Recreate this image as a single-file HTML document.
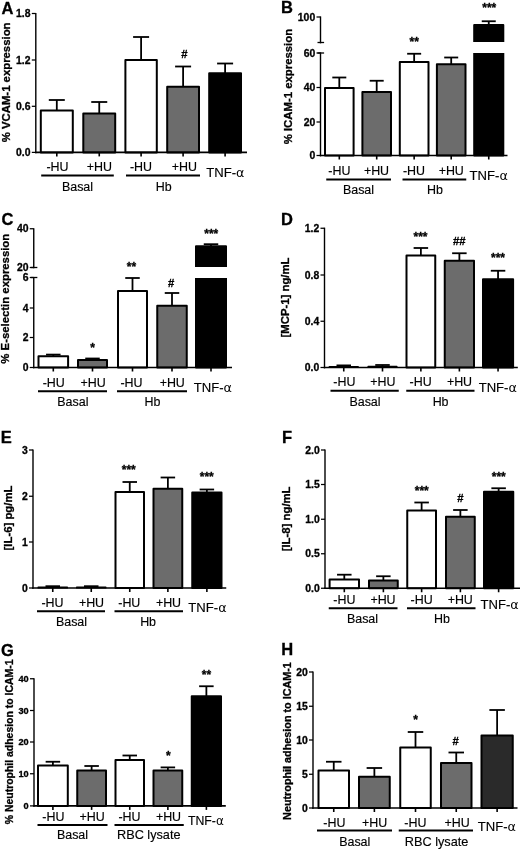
<!DOCTYPE html>
<html><head><meta charset="utf-8"><title>Figure</title>
<style>
html,body{margin:0;padding:0;background:#fff;}
svg{display:block;font-family:"Liberation Sans", sans-serif;fill:#000;}
</style></head><body>
<svg width="520" height="850" viewBox="0 0 520 850">
<rect x="0" y="0" width="520" height="850" fill="#fff"/>
<line x1="56.8" y1="100" x2="56.8" y2="110.5" stroke="#000" stroke-width="1.8"/>
<line x1="48.8" y1="100" x2="64.8" y2="100" stroke="#000" stroke-width="1.8"/>
<rect x="40.8" y="110.5" width="32.0" height="41.900000000000006" fill="#fff" stroke="#000" stroke-width="2.0" stroke-linejoin="round"/>
<line x1="56.8" y1="152.4" x2="56.8" y2="156.4" stroke="#000" stroke-width="1.6"/>
<line x1="99.25" y1="102" x2="99.25" y2="113.4" stroke="#000" stroke-width="1.8"/>
<line x1="91.25" y1="102" x2="107.25" y2="102" stroke="#000" stroke-width="1.8"/>
<rect x="83.3" y="113.4" width="31.900000000000006" height="39.0" fill="#6c6c6c" stroke="#000" stroke-width="2.0" stroke-linejoin="round"/>
<line x1="99.25" y1="152.4" x2="99.25" y2="156.4" stroke="#000" stroke-width="1.6"/>
<line x1="141.10000000000002" y1="37" x2="141.10000000000002" y2="60" stroke="#000" stroke-width="1.8"/>
<line x1="133.10000000000002" y1="37" x2="149.10000000000002" y2="37" stroke="#000" stroke-width="1.8"/>
<rect x="125.4" y="60" width="31.400000000000006" height="92.4" fill="#fff" stroke="#000" stroke-width="2.0" stroke-linejoin="round"/>
<line x1="141.10000000000002" y1="152.4" x2="141.10000000000002" y2="156.4" stroke="#000" stroke-width="1.6"/>
<line x1="183.1" y1="66.5" x2="183.1" y2="86.7" stroke="#000" stroke-width="1.8"/>
<line x1="175.1" y1="66.5" x2="191.1" y2="66.5" stroke="#000" stroke-width="1.8"/>
<rect x="167.2" y="86.7" width="31.80000000000001" height="65.7" fill="#6c6c6c" stroke="#000" stroke-width="2.0" stroke-linejoin="round"/>
<line x1="183.1" y1="152.4" x2="183.1" y2="156.4" stroke="#000" stroke-width="1.6"/>
<line x1="225.1" y1="63.5" x2="225.1" y2="73.3" stroke="#000" stroke-width="1.8"/>
<line x1="217.1" y1="63.5" x2="233.1" y2="63.5" stroke="#000" stroke-width="1.8"/>
<rect x="209.2" y="73.3" width="31.80000000000001" height="79.10000000000001" fill="#000" stroke="#000" stroke-width="2.0" stroke-linejoin="round"/>
<line x1="225.1" y1="152.4" x2="225.1" y2="156.4" stroke="#000" stroke-width="1.6"/>
<line x1="35.8" y1="12.9" x2="35.8" y2="153.25" stroke="#000" stroke-width="1.4"/>
<line x1="35.099999999999994" y1="152.4" x2="247" y2="152.4" stroke="#000" stroke-width="1.7"/>
<line x1="31.799999999999997" y1="13.5" x2="35.8" y2="13.5" stroke="#000" stroke-width="1.25"/>
<text x="30.499999999999996" y="17.22" font-size="10.4" text-anchor="end" font-weight="bold" stroke="#000" stroke-width="0.3">1.8</text>
<line x1="31.799999999999997" y1="60" x2="35.8" y2="60" stroke="#000" stroke-width="1.25"/>
<text x="30.499999999999996" y="63.72" font-size="10.4" text-anchor="end" font-weight="bold" stroke="#000" stroke-width="0.3">1.2</text>
<line x1="31.799999999999997" y1="106.3" x2="35.8" y2="106.3" stroke="#000" stroke-width="1.25"/>
<text x="30.499999999999996" y="110.02" font-size="10.4" text-anchor="end" font-weight="bold" stroke="#000" stroke-width="0.3">0.6</text>
<line x1="31.799999999999997" y1="152.4" x2="35.8" y2="152.4" stroke="#000" stroke-width="1.25"/>
<text x="30.499999999999996" y="156.12" font-size="10.4" text-anchor="end" font-weight="bold" stroke="#000" stroke-width="0.3">0.0</text>
<text x="184.3" y="58.0" font-size="11.3" text-anchor="middle" font-weight="bold" stroke="#000" stroke-width="0.3">#</text>
<text x="57.5" y="171.46" font-size="12.45" text-anchor="middle" stroke="#000" stroke-width="0.15">-HU</text>
<text x="99.4" y="171.46" font-size="12.45" text-anchor="middle" stroke="#000" stroke-width="0.15">+HU</text>
<text x="141" y="171.46" font-size="12.45" text-anchor="middle" stroke="#000" stroke-width="0.15">-HU</text>
<text x="184.4" y="171.46" font-size="12.45" text-anchor="middle" stroke="#000" stroke-width="0.15">+HU</text>
<text x="77.5" y="190.76" font-size="12.45" text-anchor="middle" stroke="#000" stroke-width="0.15">Basal</text>
<text x="163.7" y="191.26" font-size="12.45" text-anchor="middle" stroke="#000" stroke-width="0.15">Hb</text>
<text x="225.4" y="176.89" font-size="13.1" text-anchor="middle" stroke="#000" stroke-width="0.15">TNF-<tspan font-family="DejaVu Sans, sans-serif" font-size="12.8" stroke="none">α</tspan></text>
<line x1="41.2" y1="175.5" x2="113.8" y2="175.5" stroke="#000" stroke-width="1.8"/>
<line x1="126" y1="175.5" x2="200" y2="175.5" stroke="#000" stroke-width="1.8"/>
<text x="9.86" y="82.4" font-size="11.35" text-anchor="middle" font-weight="bold" stroke="#000" stroke-width="0.3" transform="rotate(-90 9.86 82.4)">% VCAM-1 expression</text>
<text x="1.6" y="13.7" font-size="16.5" text-anchor="start" font-weight="bold" stroke="#000" stroke-width="0.3">A</text>
<line x1="339.3" y1="77.5" x2="339.3" y2="88" stroke="#000" stroke-width="1.8"/>
<line x1="332.3" y1="77.5" x2="346.3" y2="77.5" stroke="#000" stroke-width="1.8"/>
<rect x="325.0" y="88" width="28.600000000000023" height="67.5" fill="#fff" stroke="#000" stroke-width="2.0" stroke-linejoin="round"/>
<line x1="339.3" y1="155.5" x2="339.3" y2="159.5" stroke="#000" stroke-width="1.6"/>
<line x1="376.7" y1="80.75" x2="376.7" y2="92" stroke="#000" stroke-width="1.8"/>
<line x1="369.7" y1="80.75" x2="383.7" y2="80.75" stroke="#000" stroke-width="1.8"/>
<rect x="362.4" y="92" width="28.600000000000023" height="63.5" fill="#6c6c6c" stroke="#000" stroke-width="2.0" stroke-linejoin="round"/>
<line x1="376.7" y1="155.5" x2="376.7" y2="159.5" stroke="#000" stroke-width="1.6"/>
<line x1="414.15" y1="53.75" x2="414.15" y2="62" stroke="#000" stroke-width="1.8"/>
<line x1="407.15" y1="53.75" x2="421.15" y2="53.75" stroke="#000" stroke-width="1.8"/>
<rect x="399.8" y="62" width="28.69999999999999" height="93.5" fill="#fff" stroke="#000" stroke-width="2.0" stroke-linejoin="round"/>
<line x1="414.15" y1="155.5" x2="414.15" y2="159.5" stroke="#000" stroke-width="1.6"/>
<line x1="451.2" y1="57.5" x2="451.2" y2="64.25" stroke="#000" stroke-width="1.8"/>
<line x1="444.2" y1="57.5" x2="458.2" y2="57.5" stroke="#000" stroke-width="1.8"/>
<rect x="436.9" y="64.25" width="28.600000000000023" height="91.25" fill="#6c6c6c" stroke="#000" stroke-width="2.0" stroke-linejoin="round"/>
<line x1="451.2" y1="155.5" x2="451.2" y2="159.5" stroke="#000" stroke-width="1.6"/>
<line x1="488.75" y1="21.25" x2="488.75" y2="25" stroke="#000" stroke-width="1.8"/>
<line x1="481.75" y1="21.25" x2="495.75" y2="21.25" stroke="#000" stroke-width="1.8"/>
<rect x="474.2" y="25" width="29.100000000000023" height="130.5" fill="#000" stroke="#000" stroke-width="2.0" stroke-linejoin="round"/>
<line x1="488.75" y1="155.5" x2="488.75" y2="159.5" stroke="#000" stroke-width="1.6"/>
<rect x="471" y="42" width="36" height="11" fill="#fff"/>
<line x1="320.5" y1="16.4" x2="320.5" y2="43.35" stroke="#000" stroke-width="1.4"/>
<line x1="320.5" y1="52.4" x2="320.5" y2="156.35" stroke="#000" stroke-width="1.4"/>
<line x1="319.8" y1="155.5" x2="507.5" y2="155.5" stroke="#000" stroke-width="1.7"/>
<line x1="317.5" y1="42.5" x2="324.1" y2="42.5" stroke="#000" stroke-width="1.3"/>
<line x1="317.5" y1="53" x2="324.1" y2="53" stroke="#000" stroke-width="1.3"/>
<line x1="316.5" y1="17" x2="320.5" y2="17" stroke="#000" stroke-width="1.25"/>
<text x="315.2" y="20.72" font-size="10.4" text-anchor="end" font-weight="bold" stroke="#000" stroke-width="0.3">100</text>
<line x1="316.5" y1="53" x2="320.5" y2="53" stroke="#000" stroke-width="1.25"/>
<text x="315.2" y="56.72" font-size="10.4" text-anchor="end" font-weight="bold" stroke="#000" stroke-width="0.3">60</text>
<line x1="316.5" y1="87.5" x2="320.5" y2="87.5" stroke="#000" stroke-width="1.25"/>
<text x="315.2" y="91.22" font-size="10.4" text-anchor="end" font-weight="bold" stroke="#000" stroke-width="0.3">40</text>
<line x1="316.5" y1="122" x2="320.5" y2="122" stroke="#000" stroke-width="1.25"/>
<text x="315.2" y="125.72" font-size="10.4" text-anchor="end" font-weight="bold" stroke="#000" stroke-width="0.3">20</text>
<line x1="316.5" y1="155.5" x2="320.5" y2="155.5" stroke="#000" stroke-width="1.25"/>
<text x="315.2" y="159.22" font-size="10.4" text-anchor="end" font-weight="bold" stroke="#000" stroke-width="0.3">0</text>
<text x="414.25" y="46.2" font-size="12" text-anchor="middle" font-weight="bold" stroke="#000" stroke-width="0.3">**</text>
<text x="489.25" y="12.45" font-size="12" text-anchor="middle" font-weight="bold" stroke="#000" stroke-width="0.3">***</text>
<text x="339.4" y="174.76" font-size="12.45" text-anchor="middle" stroke="#000" stroke-width="0.15">-HU</text>
<text x="376.5" y="174.76" font-size="12.45" text-anchor="middle" stroke="#000" stroke-width="0.15">+HU</text>
<text x="414" y="174.96" font-size="12.45" text-anchor="middle" stroke="#000" stroke-width="0.15">-HU</text>
<text x="451.25" y="174.96" font-size="12.45" text-anchor="middle" stroke="#000" stroke-width="0.15">+HU</text>
<text x="358.5" y="194.36" font-size="12.45" text-anchor="middle" stroke="#000" stroke-width="0.15">Basal</text>
<text x="435" y="194.36" font-size="12.45" text-anchor="middle" stroke="#000" stroke-width="0.15">Hb</text>
<text x="488.75" y="180.09" font-size="13.1" text-anchor="middle" stroke="#000" stroke-width="0.15">TNF-<tspan font-family="DejaVu Sans, sans-serif" font-size="12.8" stroke="none">α</tspan></text>
<line x1="326.25" y1="179.5" x2="391" y2="179.5" stroke="#000" stroke-width="1.8"/>
<line x1="402.5" y1="179.5" x2="466.25" y2="179.5" stroke="#000" stroke-width="1.8"/>
<text x="291.66" y="86.6" font-size="11.35" text-anchor="middle" font-weight="bold" stroke="#000" stroke-width="0.3" transform="rotate(-90 291.66 86.6)">% ICAM-1 expression</text>
<text x="281" y="13.2" font-size="16.5" text-anchor="start" font-weight="bold" stroke="#000" stroke-width="0.3">B</text>
<line x1="53.3" y1="354.6" x2="53.3" y2="356.2" stroke="#000" stroke-width="1.8"/>
<line x1="46.05" y1="354.6" x2="60.55" y2="354.6" stroke="#000" stroke-width="1.8"/>
<rect x="38.5" y="356.2" width="29.599999999999994" height="11.300000000000011" fill="#fff" stroke="#000" stroke-width="2.0" stroke-linejoin="round"/>
<line x1="53.3" y1="367.5" x2="53.3" y2="371.5" stroke="#000" stroke-width="1.6"/>
<line x1="92.5" y1="358.5" x2="92.5" y2="360" stroke="#000" stroke-width="1.8"/>
<line x1="85.25" y1="358.5" x2="99.75" y2="358.5" stroke="#000" stroke-width="1.8"/>
<rect x="78.0" y="360" width="29.0" height="7.5" fill="#6c6c6c" stroke="#000" stroke-width="2.0" stroke-linejoin="round"/>
<line x1="92.5" y1="367.5" x2="92.5" y2="371.5" stroke="#000" stroke-width="1.6"/>
<line x1="132.5" y1="278" x2="132.5" y2="291" stroke="#000" stroke-width="1.8"/>
<line x1="125.25" y1="278" x2="139.75" y2="278" stroke="#000" stroke-width="1.8"/>
<rect x="118.0" y="291" width="29.0" height="76.5" fill="#fff" stroke="#000" stroke-width="2.0" stroke-linejoin="round"/>
<line x1="132.5" y1="367.5" x2="132.5" y2="371.5" stroke="#000" stroke-width="1.6"/>
<line x1="172.0" y1="293" x2="172.0" y2="305.75" stroke="#000" stroke-width="1.8"/>
<line x1="164.75" y1="293" x2="179.25" y2="293" stroke="#000" stroke-width="1.8"/>
<rect x="157.25" y="305.75" width="29.5" height="61.75" fill="#6c6c6c" stroke="#000" stroke-width="2.0" stroke-linejoin="round"/>
<line x1="172.0" y1="367.5" x2="172.0" y2="371.5" stroke="#000" stroke-width="1.6"/>
<line x1="211.0" y1="244.2" x2="211.0" y2="246.2" stroke="#000" stroke-width="1.8"/>
<line x1="203.75" y1="244.2" x2="218.25" y2="244.2" stroke="#000" stroke-width="1.8"/>
<rect x="196.0" y="246.2" width="30.0" height="121.30000000000001" fill="#000" stroke="#000" stroke-width="2.0" stroke-linejoin="round"/>
<line x1="211.0" y1="367.5" x2="211.0" y2="371.5" stroke="#000" stroke-width="1.6"/>
<rect x="193" y="267" width="36" height="11" fill="#fff"/>
<line x1="33.75" y1="228.15" x2="33.75" y2="268.35" stroke="#000" stroke-width="1.4"/>
<line x1="33.75" y1="276.9" x2="33.75" y2="368.35" stroke="#000" stroke-width="1.4"/>
<line x1="33.05" y1="367.5" x2="232" y2="367.5" stroke="#000" stroke-width="1.7"/>
<line x1="30.75" y1="267.5" x2="37.35" y2="267.5" stroke="#000" stroke-width="1.3"/>
<line x1="30.75" y1="277.5" x2="37.35" y2="277.5" stroke="#000" stroke-width="1.3"/>
<line x1="29.75" y1="228.75" x2="33.75" y2="228.75" stroke="#000" stroke-width="1.25"/>
<text x="28.45" y="232.47" font-size="10.4" text-anchor="end" font-weight="bold" stroke="#000" stroke-width="0.3">40</text>
<line x1="29.75" y1="267.5" x2="33.75" y2="267.5" stroke="#000" stroke-width="1.25"/>
<text x="28.45" y="271.22" font-size="10.4" text-anchor="end" font-weight="bold" stroke="#000" stroke-width="0.3">20</text>
<line x1="29.75" y1="277.5" x2="33.75" y2="277.5" stroke="#000" stroke-width="1.25"/>
<text x="28.45" y="281.22" font-size="10.4" text-anchor="end" font-weight="bold" stroke="#000" stroke-width="0.3">6</text>
<line x1="29.75" y1="308" x2="33.75" y2="308" stroke="#000" stroke-width="1.25"/>
<text x="28.45" y="311.72" font-size="10.4" text-anchor="end" font-weight="bold" stroke="#000" stroke-width="0.3">4</text>
<line x1="29.75" y1="337.5" x2="33.75" y2="337.5" stroke="#000" stroke-width="1.25"/>
<text x="28.45" y="341.22" font-size="10.4" text-anchor="end" font-weight="bold" stroke="#000" stroke-width="0.3">2</text>
<line x1="29.75" y1="367.5" x2="33.75" y2="367.5" stroke="#000" stroke-width="1.25"/>
<text x="28.45" y="371.22" font-size="10.4" text-anchor="end" font-weight="bold" stroke="#000" stroke-width="0.3">0</text>
<text x="92.5" y="351.95" font-size="12" text-anchor="middle" font-weight="bold" stroke="#000" stroke-width="0.3">*</text>
<text x="131.5" y="271.2" font-size="12" text-anchor="middle" font-weight="bold" stroke="#000" stroke-width="0.3">**</text>
<text x="171.25" y="286.5" font-size="11.3" text-anchor="middle" font-weight="bold" stroke="#000" stroke-width="0.3">#</text>
<text x="211.25" y="238.2" font-size="12" text-anchor="middle" font-weight="bold" stroke="#000" stroke-width="0.3">***</text>
<text x="53.75" y="386.96" font-size="12.45" text-anchor="middle" stroke="#000" stroke-width="0.15">-HU</text>
<text x="93.1" y="386.96" font-size="12.45" text-anchor="middle" stroke="#000" stroke-width="0.15">+HU</text>
<text x="131.5" y="386.96" font-size="12.45" text-anchor="middle" stroke="#000" stroke-width="0.15">-HU</text>
<text x="172.25" y="386.96" font-size="12.45" text-anchor="middle" stroke="#000" stroke-width="0.15">+HU</text>
<text x="72.9" y="406.06" font-size="12.45" text-anchor="middle" stroke="#000" stroke-width="0.15">Basal</text>
<text x="152.5" y="406.06" font-size="12.45" text-anchor="middle" stroke="#000" stroke-width="0.15">Hb</text>
<text x="212.9" y="391.94" font-size="13.1" text-anchor="middle" stroke="#000" stroke-width="0.15">TNF-<tspan font-family="DejaVu Sans, sans-serif" font-size="12.8" stroke="none">α</tspan></text>
<line x1="38" y1="391.25" x2="107" y2="391.25" stroke="#000" stroke-width="1.8"/>
<line x1="117" y1="391.25" x2="187" y2="391.25" stroke="#000" stroke-width="1.8"/>
<text x="9.46" y="298.7" font-size="11.35" text-anchor="middle" font-weight="bold" stroke="#000" stroke-width="0.3" transform="rotate(-90 9.46 298.7)">% E-selectin expression</text>
<text x="1.5" y="225" font-size="16.5" text-anchor="start" font-weight="bold" stroke="#000" stroke-width="0.3">C</text>
<line x1="343.75" y1="365.4" x2="343.75" y2="366.6" stroke="#000" stroke-width="1.8"/>
<line x1="336.5" y1="365.4" x2="351.0" y2="365.4" stroke="#000" stroke-width="1.8"/>
<rect x="329.35" y="366.6" width="28.799999999999955" height="0.8999999999999773" fill="#000" stroke="#000" stroke-width="1.2" stroke-linejoin="round"/>
<line x1="343.75" y1="367.5" x2="343.75" y2="371.5" stroke="#000" stroke-width="1.6"/>
<line x1="382.5" y1="365" x2="382.5" y2="366.4" stroke="#000" stroke-width="1.8"/>
<line x1="375.25" y1="365" x2="389.75" y2="365" stroke="#000" stroke-width="1.8"/>
<rect x="368.1" y="366.4" width="28.799999999999955" height="1.1000000000000227" fill="#000" stroke="#000" stroke-width="1.2" stroke-linejoin="round"/>
<line x1="382.5" y1="367.5" x2="382.5" y2="371.5" stroke="#000" stroke-width="1.6"/>
<line x1="420.875" y1="248" x2="420.875" y2="255.5" stroke="#000" stroke-width="1.8"/>
<line x1="413.625" y1="248" x2="428.125" y2="248" stroke="#000" stroke-width="1.8"/>
<rect x="406.5" y="255.5" width="28.75" height="112.0" fill="#fff" stroke="#000" stroke-width="2.0" stroke-linejoin="round"/>
<line x1="420.875" y1="367.5" x2="420.875" y2="371.5" stroke="#000" stroke-width="1.6"/>
<line x1="459.375" y1="253.25" x2="459.375" y2="260.75" stroke="#000" stroke-width="1.8"/>
<line x1="452.125" y1="253.25" x2="466.625" y2="253.25" stroke="#000" stroke-width="1.8"/>
<rect x="444.75" y="260.75" width="29.25" height="106.75" fill="#6c6c6c" stroke="#000" stroke-width="2.0" stroke-linejoin="round"/>
<line x1="459.375" y1="367.5" x2="459.375" y2="371.5" stroke="#000" stroke-width="1.6"/>
<line x1="498.05" y1="270.75" x2="498.05" y2="279.25" stroke="#000" stroke-width="1.8"/>
<line x1="490.8" y1="270.75" x2="505.3" y2="270.75" stroke="#000" stroke-width="1.8"/>
<rect x="483.0" y="279.25" width="30.100000000000023" height="88.25" fill="#000" stroke="#000" stroke-width="2.0" stroke-linejoin="round"/>
<line x1="498.05" y1="367.5" x2="498.05" y2="371.5" stroke="#000" stroke-width="1.6"/>
<line x1="324.5" y1="227.65" x2="324.5" y2="368.35" stroke="#000" stroke-width="1.4"/>
<line x1="323.8" y1="367.5" x2="517.8" y2="367.5" stroke="#000" stroke-width="1.7"/>
<line x1="320.5" y1="228.25" x2="324.5" y2="228.25" stroke="#000" stroke-width="1.25"/>
<text x="319.2" y="231.97" font-size="10.4" text-anchor="end" font-weight="bold" stroke="#000" stroke-width="0.3">1.2</text>
<line x1="320.5" y1="275" x2="324.5" y2="275" stroke="#000" stroke-width="1.25"/>
<text x="319.2" y="278.72" font-size="10.4" text-anchor="end" font-weight="bold" stroke="#000" stroke-width="0.3">0.8</text>
<line x1="320.5" y1="321.25" x2="324.5" y2="321.25" stroke="#000" stroke-width="1.25"/>
<text x="319.2" y="324.97" font-size="10.4" text-anchor="end" font-weight="bold" stroke="#000" stroke-width="0.3">0.4</text>
<line x1="320.5" y1="367.5" x2="324.5" y2="367.5" stroke="#000" stroke-width="1.25"/>
<text x="319.2" y="371.22" font-size="10.4" text-anchor="end" font-weight="bold" stroke="#000" stroke-width="0.3">0.0</text>
<text x="420.5" y="240.7" font-size="12" text-anchor="middle" font-weight="bold" stroke="#000" stroke-width="0.3">***</text>
<text x="459.25" y="245.25" font-size="11.3" text-anchor="middle" font-weight="bold" stroke="#000" stroke-width="0.3">##</text>
<text x="498" y="262.45" font-size="12" text-anchor="middle" font-weight="bold" stroke="#000" stroke-width="0.3">***</text>
<text x="344.4" y="386.36" font-size="12.45" text-anchor="middle" stroke="#000" stroke-width="0.15">-HU</text>
<text x="382.8" y="386.36" font-size="12.45" text-anchor="middle" stroke="#000" stroke-width="0.15">+HU</text>
<text x="420.6" y="386.36" font-size="12.45" text-anchor="middle" stroke="#000" stroke-width="0.15">-HU</text>
<text x="459.5" y="386.36" font-size="12.45" text-anchor="middle" stroke="#000" stroke-width="0.15">+HU</text>
<text x="365" y="405.56" font-size="12.45" text-anchor="middle" stroke="#000" stroke-width="0.15">Basal</text>
<text x="440.6" y="405.56" font-size="12.45" text-anchor="middle" stroke="#000" stroke-width="0.15">Hb</text>
<text x="497.8" y="391.79" font-size="13.1" text-anchor="middle" stroke="#000" stroke-width="0.15">TNF-<tspan font-family="DejaVu Sans, sans-serif" font-size="12.8" stroke="none">α</tspan></text>
<line x1="330.5" y1="390.75" x2="398.75" y2="390.75" stroke="#000" stroke-width="1.8"/>
<line x1="406.25" y1="390.75" x2="474.5" y2="390.75" stroke="#000" stroke-width="1.8"/>
<text x="289.06" y="297.5" font-size="11.35" text-anchor="middle" font-weight="bold" stroke="#000" stroke-width="0.3" transform="rotate(-90 289.06 297.5)">[MCP-1] ng/mL</text>
<text x="281" y="225" font-size="16.5" text-anchor="start" font-weight="bold" stroke="#000" stroke-width="0.3">D</text>
<line x1="52.75" y1="586.2" x2="52.75" y2="587.2" stroke="#000" stroke-width="1.8"/>
<line x1="45.5" y1="586.2" x2="60.0" y2="586.2" stroke="#000" stroke-width="1.8"/>
<rect x="38.1" y="587.2" width="29.300000000000004" height="0.7999999999999545" fill="#000" stroke="#000" stroke-width="1.2" stroke-linejoin="round"/>
<line x1="52.75" y1="588" x2="52.75" y2="592" stroke="#000" stroke-width="1.6"/>
<line x1="91.25" y1="586.2" x2="91.25" y2="587.2" stroke="#000" stroke-width="1.8"/>
<line x1="84.0" y1="586.2" x2="98.5" y2="586.2" stroke="#000" stroke-width="1.8"/>
<rect x="76.6" y="587.2" width="29.30000000000001" height="0.7999999999999545" fill="#000" stroke="#000" stroke-width="1.2" stroke-linejoin="round"/>
<line x1="91.25" y1="588" x2="91.25" y2="592" stroke="#000" stroke-width="1.6"/>
<line x1="129.75" y1="482" x2="129.75" y2="492" stroke="#000" stroke-width="1.8"/>
<line x1="122.5" y1="482" x2="137.0" y2="482" stroke="#000" stroke-width="1.8"/>
<rect x="115.5" y="492" width="28.5" height="96" fill="#fff" stroke="#000" stroke-width="2.0" stroke-linejoin="round"/>
<line x1="129.75" y1="588" x2="129.75" y2="592" stroke="#000" stroke-width="1.6"/>
<line x1="167.875" y1="477.5" x2="167.875" y2="488.75" stroke="#000" stroke-width="1.8"/>
<line x1="160.625" y1="477.5" x2="175.125" y2="477.5" stroke="#000" stroke-width="1.8"/>
<rect x="153.5" y="488.75" width="28.75" height="99.25" fill="#6c6c6c" stroke="#000" stroke-width="2.0" stroke-linejoin="round"/>
<line x1="167.875" y1="588" x2="167.875" y2="592" stroke="#000" stroke-width="1.6"/>
<line x1="206.875" y1="489.5" x2="206.875" y2="492.6" stroke="#000" stroke-width="1.8"/>
<line x1="199.625" y1="489.5" x2="214.125" y2="489.5" stroke="#000" stroke-width="1.8"/>
<rect x="192.25" y="492.6" width="29.25" height="95.39999999999998" fill="#000" stroke="#000" stroke-width="2.0" stroke-linejoin="round"/>
<line x1="206.875" y1="588" x2="206.875" y2="592" stroke="#000" stroke-width="1.6"/>
<line x1="33" y1="449.4" x2="33" y2="588.85" stroke="#000" stroke-width="1.4"/>
<line x1="32.3" y1="588" x2="226.25" y2="588" stroke="#000" stroke-width="1.7"/>
<line x1="29.0" y1="450" x2="33" y2="450" stroke="#000" stroke-width="1.25"/>
<text x="27.7" y="453.72" font-size="10.4" text-anchor="end" font-weight="bold" stroke="#000" stroke-width="0.3">3</text>
<line x1="29.0" y1="496.25" x2="33" y2="496.25" stroke="#000" stroke-width="1.25"/>
<text x="27.7" y="499.97" font-size="10.4" text-anchor="end" font-weight="bold" stroke="#000" stroke-width="0.3">2</text>
<line x1="29.0" y1="542" x2="33" y2="542" stroke="#000" stroke-width="1.25"/>
<text x="27.7" y="545.72" font-size="10.4" text-anchor="end" font-weight="bold" stroke="#000" stroke-width="0.3">1</text>
<line x1="29.0" y1="588" x2="33" y2="588" stroke="#000" stroke-width="1.25"/>
<text x="27.7" y="591.72" font-size="10.4" text-anchor="end" font-weight="bold" stroke="#000" stroke-width="0.3">0</text>
<text x="128.75" y="474.2" font-size="12" text-anchor="middle" font-weight="bold" stroke="#000" stroke-width="0.3">***</text>
<text x="206.75" y="481.2" font-size="12" text-anchor="middle" font-weight="bold" stroke="#000" stroke-width="0.3">***</text>
<text x="52.5" y="607.06" font-size="12.45" text-anchor="middle" stroke="#000" stroke-width="0.15">-HU</text>
<text x="91.5" y="607.06" font-size="12.45" text-anchor="middle" stroke="#000" stroke-width="0.15">+HU</text>
<text x="129.3" y="607.06" font-size="12.45" text-anchor="middle" stroke="#000" stroke-width="0.15">-HU</text>
<text x="168.5" y="607.06" font-size="12.45" text-anchor="middle" stroke="#000" stroke-width="0.15">+HU</text>
<text x="71.5" y="626.36" font-size="12.45" text-anchor="middle" stroke="#000" stroke-width="0.15">Basal</text>
<text x="148.1" y="626.36" font-size="12.45" text-anchor="middle" stroke="#000" stroke-width="0.15">Hb</text>
<text x="207.5" y="612.09" font-size="13.1" text-anchor="middle" stroke="#000" stroke-width="0.15">TNF-<tspan font-family="DejaVu Sans, sans-serif" font-size="12.8" stroke="none">α</tspan></text>
<line x1="37" y1="611.25" x2="105" y2="611.25" stroke="#000" stroke-width="1.8"/>
<line x1="114.5" y1="611.25" x2="183" y2="611.25" stroke="#000" stroke-width="1.8"/>
<text x="11.76" y="518" font-size="11.35" text-anchor="middle" font-weight="bold" stroke="#000" stroke-width="0.3" transform="rotate(-90 11.76 518)">[IL-6] pg/mL</text>
<text x="0.8" y="442.5" font-size="16.5" text-anchor="start" font-weight="bold" stroke="#000" stroke-width="0.3">E</text>
<line x1="52.9" y1="761.75" x2="52.9" y2="765.5" stroke="#000" stroke-width="1.8"/>
<line x1="45.65" y1="761.75" x2="60.15" y2="761.75" stroke="#000" stroke-width="1.8"/>
<rect x="38.0" y="765.5" width="29.799999999999997" height="40.39999999999998" fill="#fff" stroke="#000" stroke-width="2.0" stroke-linejoin="round"/>
<line x1="52.9" y1="805.9" x2="52.9" y2="809.9" stroke="#000" stroke-width="1.6"/>
<line x1="91.625" y1="766" x2="91.625" y2="770.5" stroke="#000" stroke-width="1.8"/>
<line x1="84.375" y1="766" x2="98.875" y2="766" stroke="#000" stroke-width="1.8"/>
<rect x="77.25" y="770.5" width="28.75" height="35.39999999999998" fill="#6c6c6c" stroke="#000" stroke-width="2.0" stroke-linejoin="round"/>
<line x1="91.625" y1="805.9" x2="91.625" y2="809.9" stroke="#000" stroke-width="1.6"/>
<line x1="129.75" y1="755.5" x2="129.75" y2="760" stroke="#000" stroke-width="1.8"/>
<line x1="122.5" y1="755.5" x2="137.0" y2="755.5" stroke="#000" stroke-width="1.8"/>
<rect x="115.5" y="760" width="28.5" height="45.89999999999998" fill="#fff" stroke="#000" stroke-width="2.0" stroke-linejoin="round"/>
<line x1="129.75" y1="805.9" x2="129.75" y2="809.9" stroke="#000" stroke-width="1.6"/>
<line x1="167.875" y1="767.4" x2="167.875" y2="770.6" stroke="#000" stroke-width="1.8"/>
<line x1="160.625" y1="767.4" x2="175.125" y2="767.4" stroke="#000" stroke-width="1.8"/>
<rect x="153.5" y="770.6" width="28.75" height="35.299999999999955" fill="#6c6c6c" stroke="#000" stroke-width="2.0" stroke-linejoin="round"/>
<line x1="167.875" y1="805.9" x2="167.875" y2="809.9" stroke="#000" stroke-width="1.6"/>
<line x1="206.375" y1="686.25" x2="206.375" y2="696.25" stroke="#000" stroke-width="1.8"/>
<line x1="199.125" y1="686.25" x2="213.625" y2="686.25" stroke="#000" stroke-width="1.8"/>
<rect x="191.75" y="696.25" width="29.25" height="109.64999999999998" fill="#000" stroke="#000" stroke-width="2.0" stroke-linejoin="round"/>
<line x1="206.375" y1="805.9" x2="206.375" y2="809.9" stroke="#000" stroke-width="1.6"/>
<line x1="34.0" y1="678.15" x2="34.0" y2="806.75" stroke="#000" stroke-width="1.4"/>
<line x1="33.3" y1="805.9" x2="225.8" y2="805.9" stroke="#000" stroke-width="1.7"/>
<line x1="30.0" y1="678.75" x2="34.0" y2="678.75" stroke="#000" stroke-width="1.25"/>
<text x="28.7" y="682.04" font-size="9.2" text-anchor="end" font-weight="bold" stroke="#000" stroke-width="0.3">40</text>
<line x1="30.0" y1="710.5" x2="34.0" y2="710.5" stroke="#000" stroke-width="1.25"/>
<text x="28.7" y="713.79" font-size="9.2" text-anchor="end" font-weight="bold" stroke="#000" stroke-width="0.3">30</text>
<line x1="30.0" y1="742" x2="34.0" y2="742" stroke="#000" stroke-width="1.25"/>
<text x="28.7" y="745.29" font-size="9.2" text-anchor="end" font-weight="bold" stroke="#000" stroke-width="0.3">20</text>
<line x1="30.0" y1="773.75" x2="34.0" y2="773.75" stroke="#000" stroke-width="1.25"/>
<text x="28.7" y="777.04" font-size="9.2" text-anchor="end" font-weight="bold" stroke="#000" stroke-width="0.3">10</text>
<line x1="30.0" y1="805.9" x2="34.0" y2="805.9" stroke="#000" stroke-width="1.25"/>
<text x="28.7" y="809.19" font-size="9.2" text-anchor="end" font-weight="bold" stroke="#000" stroke-width="0.3">0</text>
<text x="168.25" y="759.7" font-size="12" text-anchor="middle" font-weight="bold" stroke="#000" stroke-width="0.3">*</text>
<text x="206.5" y="679.45" font-size="12" text-anchor="middle" font-weight="bold" stroke="#000" stroke-width="0.3">**</text>
<text x="53.4" y="820.56" font-size="12.45" text-anchor="middle" stroke="#000" stroke-width="0.15">-HU</text>
<text x="92.1" y="820.56" font-size="12.45" text-anchor="middle" stroke="#000" stroke-width="0.15">+HU</text>
<text x="129.5" y="820.56" font-size="12.45" text-anchor="middle" stroke="#000" stroke-width="0.15">-HU</text>
<text x="168.5" y="820.56" font-size="12.45" text-anchor="middle" stroke="#000" stroke-width="0.15">+HU</text>
<text x="72.5" y="839.36" font-size="12.45" text-anchor="middle" stroke="#000" stroke-width="0.15">Basal</text>
<text x="148.75" y="839.45" font-size="12.7" text-anchor="middle" stroke="#000" stroke-width="0.15">RBC lysate</text>
<text x="205.9" y="825.2" font-size="12.3" text-anchor="middle" stroke="#000" stroke-width="0.15">TNF-<tspan font-family="DejaVu Sans, sans-serif" font-size="12.0" stroke="none">α</tspan></text>
<line x1="37.5" y1="825" x2="107.5" y2="825" stroke="#000" stroke-width="1.8"/>
<line x1="114.5" y1="825" x2="183.75" y2="825" stroke="#000" stroke-width="1.8"/>
<text x="13.04" y="741.9" font-size="10.45" text-anchor="middle" font-weight="bold" stroke="#000" stroke-width="0.3" transform="rotate(-90 13.04 741.9)">% Neutrophil adhesion to ICAM-1</text>
<text x="0.9" y="655.5" font-size="16.5" text-anchor="start" font-weight="bold" stroke="#000" stroke-width="0.3">G</text>
<line x1="344.3" y1="574.7" x2="344.3" y2="579.5" stroke="#000" stroke-width="1.8"/>
<line x1="337.05" y1="574.7" x2="351.55" y2="574.7" stroke="#000" stroke-width="1.8"/>
<rect x="329.6" y="579.5" width="29.399999999999977" height="8.75" fill="#fff" stroke="#000" stroke-width="2.0" stroke-linejoin="round"/>
<line x1="344.3" y1="588.25" x2="344.3" y2="592.25" stroke="#000" stroke-width="1.6"/>
<line x1="383.375" y1="576.25" x2="383.375" y2="580.5" stroke="#000" stroke-width="1.8"/>
<line x1="376.125" y1="576.25" x2="390.625" y2="576.25" stroke="#000" stroke-width="1.8"/>
<rect x="369.0" y="580.5" width="28.75" height="7.75" fill="#6c6c6c" stroke="#000" stroke-width="2.0" stroke-linejoin="round"/>
<line x1="383.375" y1="588.25" x2="383.375" y2="592.25" stroke="#000" stroke-width="1.6"/>
<line x1="421.625" y1="502.5" x2="421.625" y2="510.5" stroke="#000" stroke-width="1.8"/>
<line x1="414.375" y1="502.5" x2="428.875" y2="502.5" stroke="#000" stroke-width="1.8"/>
<rect x="407.25" y="510.5" width="28.75" height="77.75" fill="#fff" stroke="#000" stroke-width="2.0" stroke-linejoin="round"/>
<line x1="421.625" y1="588.25" x2="421.625" y2="592.25" stroke="#000" stroke-width="1.6"/>
<line x1="460.375" y1="510" x2="460.375" y2="516.75" stroke="#000" stroke-width="1.8"/>
<line x1="453.125" y1="510" x2="467.625" y2="510" stroke="#000" stroke-width="1.8"/>
<rect x="446.0" y="516.75" width="28.75" height="71.5" fill="#6c6c6c" stroke="#000" stroke-width="2.0" stroke-linejoin="round"/>
<line x1="460.375" y1="588.25" x2="460.375" y2="592.25" stroke="#000" stroke-width="1.6"/>
<line x1="498.625" y1="488.25" x2="498.625" y2="491.75" stroke="#000" stroke-width="1.8"/>
<line x1="491.375" y1="488.25" x2="505.875" y2="488.25" stroke="#000" stroke-width="1.8"/>
<rect x="484.0" y="491.75" width="29.25" height="96.5" fill="#000" stroke="#000" stroke-width="2.0" stroke-linejoin="round"/>
<line x1="498.625" y1="588.25" x2="498.625" y2="592.25" stroke="#000" stroke-width="1.6"/>
<line x1="325" y1="449.4" x2="325" y2="589.1" stroke="#000" stroke-width="1.4"/>
<line x1="324.3" y1="588.25" x2="520" y2="588.25" stroke="#000" stroke-width="1.7"/>
<line x1="321.0" y1="450" x2="325" y2="450" stroke="#000" stroke-width="1.25"/>
<text x="319.7" y="453.72" font-size="10.4" text-anchor="end" font-weight="bold" stroke="#000" stroke-width="0.3">2.0</text>
<line x1="321.0" y1="484.5" x2="325" y2="484.5" stroke="#000" stroke-width="1.25"/>
<text x="319.7" y="488.22" font-size="10.4" text-anchor="end" font-weight="bold" stroke="#000" stroke-width="0.3">1.5</text>
<line x1="321.0" y1="519.25" x2="325" y2="519.25" stroke="#000" stroke-width="1.25"/>
<text x="319.7" y="522.97" font-size="10.4" text-anchor="end" font-weight="bold" stroke="#000" stroke-width="0.3">1.0</text>
<line x1="321.0" y1="553.75" x2="325" y2="553.75" stroke="#000" stroke-width="1.25"/>
<text x="319.7" y="557.47" font-size="10.4" text-anchor="end" font-weight="bold" stroke="#000" stroke-width="0.3">0.5</text>
<line x1="321.0" y1="588.25" x2="325" y2="588.25" stroke="#000" stroke-width="1.25"/>
<text x="319.7" y="591.97" font-size="10.4" text-anchor="end" font-weight="bold" stroke="#000" stroke-width="0.3">0.0</text>
<text x="421.75" y="495.45" font-size="12" text-anchor="middle" font-weight="bold" stroke="#000" stroke-width="0.3">***</text>
<text x="460.5" y="501.5" font-size="11.3" text-anchor="middle" font-weight="bold" stroke="#000" stroke-width="0.3">#</text>
<text x="498.75" y="480.7" font-size="12" text-anchor="middle" font-weight="bold" stroke="#000" stroke-width="0.3">***</text>
<text x="344.4" y="603.86" font-size="12.45" text-anchor="middle" stroke="#000" stroke-width="0.15">-HU</text>
<text x="383" y="603.86" font-size="12.45" text-anchor="middle" stroke="#000" stroke-width="0.15">+HU</text>
<text x="421.6" y="603.86" font-size="12.45" text-anchor="middle" stroke="#000" stroke-width="0.15">-HU</text>
<text x="460.25" y="603.86" font-size="12.45" text-anchor="middle" stroke="#000" stroke-width="0.15">+HU</text>
<text x="362.5" y="623.06" font-size="12.45" text-anchor="middle" stroke="#000" stroke-width="0.15">Basal</text>
<text x="441.9" y="623.06" font-size="12.45" text-anchor="middle" stroke="#000" stroke-width="0.15">Hb</text>
<text x="499.6" y="608.89" font-size="13.1" text-anchor="middle" stroke="#000" stroke-width="0.15">TNF-<tspan font-family="DejaVu Sans, sans-serif" font-size="12.8" stroke="none">α</tspan></text>
<line x1="328.75" y1="608.25" x2="397.5" y2="608.25" stroke="#000" stroke-width="1.8"/>
<line x1="407" y1="608.25" x2="475.5" y2="608.25" stroke="#000" stroke-width="1.8"/>
<text x="289.66" y="518.9" font-size="11.35" text-anchor="middle" font-weight="bold" stroke="#000" stroke-width="0.3" transform="rotate(-90 289.66 518.9)">[IL-8] ng/mL</text>
<text x="282" y="442.5" font-size="16.5" text-anchor="start" font-weight="bold" stroke="#000" stroke-width="0.3">F</text>
<line x1="333.75" y1="761.75" x2="333.75" y2="770.5" stroke="#000" stroke-width="1.8"/>
<line x1="326.0" y1="761.75" x2="341.5" y2="761.75" stroke="#000" stroke-width="1.8"/>
<rect x="318.5" y="770.5" width="30.5" height="37.5" fill="#fff" stroke="#000" stroke-width="2.0" stroke-linejoin="round"/>
<line x1="333.75" y1="808" x2="333.75" y2="812" stroke="#000" stroke-width="1.6"/>
<line x1="374.375" y1="768" x2="374.375" y2="776.75" stroke="#000" stroke-width="1.8"/>
<line x1="366.625" y1="768" x2="382.125" y2="768" stroke="#000" stroke-width="1.8"/>
<rect x="359.0" y="776.75" width="30.75" height="31.25" fill="#6c6c6c" stroke="#000" stroke-width="2.0" stroke-linejoin="round"/>
<line x1="374.375" y1="808" x2="374.375" y2="812" stroke="#000" stroke-width="1.6"/>
<line x1="415.5" y1="732" x2="415.5" y2="747.5" stroke="#000" stroke-width="1.8"/>
<line x1="407.75" y1="732" x2="423.25" y2="732" stroke="#000" stroke-width="1.8"/>
<rect x="400.25" y="747.5" width="30.5" height="60.5" fill="#fff" stroke="#000" stroke-width="2.0" stroke-linejoin="round"/>
<line x1="415.5" y1="808" x2="415.5" y2="812" stroke="#000" stroke-width="1.6"/>
<line x1="456.25" y1="752.5" x2="456.25" y2="763" stroke="#000" stroke-width="1.8"/>
<line x1="448.5" y1="752.5" x2="464.0" y2="752.5" stroke="#000" stroke-width="1.8"/>
<rect x="441.0" y="763" width="30.5" height="45" fill="#6c6c6c" stroke="#000" stroke-width="2.0" stroke-linejoin="round"/>
<line x1="456.25" y1="808" x2="456.25" y2="812" stroke="#000" stroke-width="1.6"/>
<line x1="497.125" y1="710" x2="497.125" y2="735.5" stroke="#000" stroke-width="1.8"/>
<line x1="489.375" y1="710" x2="504.875" y2="710" stroke="#000" stroke-width="1.8"/>
<rect x="481.5" y="735.5" width="31.25" height="72.5" fill="#2a2a2a" stroke="#000" stroke-width="2.0" stroke-linejoin="round"/>
<line x1="497.125" y1="808" x2="497.125" y2="812" stroke="#000" stroke-width="1.6"/>
<line x1="313" y1="671.4" x2="313" y2="808.85" stroke="#000" stroke-width="1.4"/>
<line x1="312.3" y1="808" x2="517.5" y2="808" stroke="#000" stroke-width="1.7"/>
<line x1="309.0" y1="672" x2="313" y2="672" stroke="#000" stroke-width="1.25"/>
<text x="307.7" y="675.72" font-size="10.4" text-anchor="end" font-weight="bold" stroke="#000" stroke-width="0.3">20</text>
<line x1="309.0" y1="706.25" x2="313" y2="706.25" stroke="#000" stroke-width="1.25"/>
<text x="307.7" y="709.97" font-size="10.4" text-anchor="end" font-weight="bold" stroke="#000" stroke-width="0.3">15</text>
<line x1="309.0" y1="740" x2="313" y2="740" stroke="#000" stroke-width="1.25"/>
<text x="307.7" y="743.72" font-size="10.4" text-anchor="end" font-weight="bold" stroke="#000" stroke-width="0.3">10</text>
<line x1="309.0" y1="774.25" x2="313" y2="774.25" stroke="#000" stroke-width="1.25"/>
<text x="307.7" y="777.97" font-size="10.4" text-anchor="end" font-weight="bold" stroke="#000" stroke-width="0.3">5</text>
<line x1="309.0" y1="808" x2="313" y2="808" stroke="#000" stroke-width="1.25"/>
<text x="307.7" y="811.72" font-size="10.4" text-anchor="end" font-weight="bold" stroke="#000" stroke-width="0.3">0</text>
<text x="415.5" y="723.7" font-size="12" text-anchor="middle" font-weight="bold" stroke="#000" stroke-width="0.3">*</text>
<text x="455.75" y="744.5" font-size="11.3" text-anchor="middle" font-weight="bold" stroke="#000" stroke-width="0.3">#</text>
<text x="334.4" y="826.86" font-size="12.45" text-anchor="middle" stroke="#000" stroke-width="0.15">-HU</text>
<text x="374.6" y="826.86" font-size="12.45" text-anchor="middle" stroke="#000" stroke-width="0.15">+HU</text>
<text x="415.4" y="826.86" font-size="12.45" text-anchor="middle" stroke="#000" stroke-width="0.15">-HU</text>
<text x="457.1" y="826.86" font-size="12.45" text-anchor="middle" stroke="#000" stroke-width="0.15">+HU</text>
<text x="354.75" y="845.56" font-size="12.45" text-anchor="middle" stroke="#000" stroke-width="0.15">Basal</text>
<text x="436.6" y="845.65" font-size="12.7" text-anchor="middle" stroke="#000" stroke-width="0.15">RBC lysate</text>
<text x="496.9" y="831.09" font-size="13.1" text-anchor="middle" stroke="#000" stroke-width="0.15">TNF-<tspan font-family="DejaVu Sans, sans-serif" font-size="12.8" stroke="none">α</tspan></text>
<line x1="317" y1="830.5" x2="392" y2="830.5" stroke="#000" stroke-width="1.8"/>
<line x1="398.75" y1="830.5" x2="473" y2="830.5" stroke="#000" stroke-width="1.8"/>
<text x="291.37" y="741" font-size="10.8" text-anchor="middle" font-weight="bold" stroke="#000" stroke-width="0.3" transform="rotate(-90 291.37 741)">Neutrophil adhesion to ICAM-1</text>
<text x="281.2" y="655" font-size="16.5" text-anchor="start" font-weight="bold" stroke="#000" stroke-width="0.3">H</text>
</svg>
</body></html>
